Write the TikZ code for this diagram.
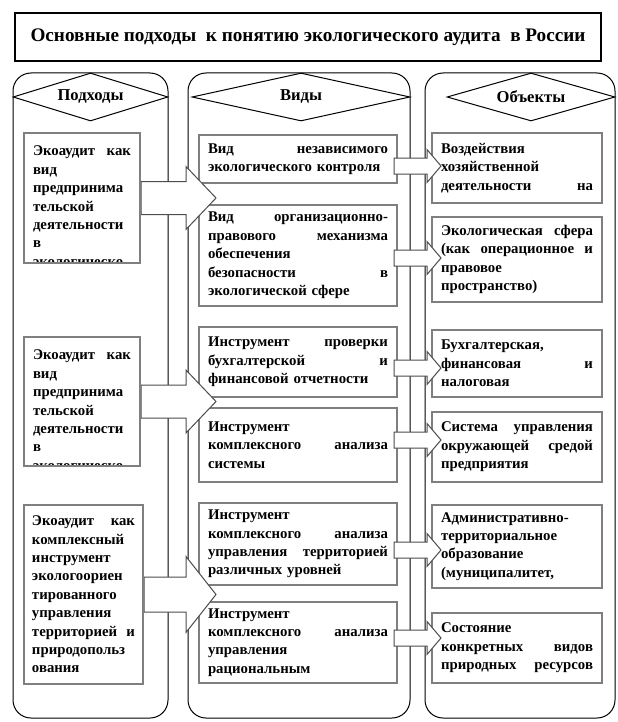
\documentclass[tikz,border=0pt]{standalone}
\usepackage{fontspec}
\setmainfont{Liberation Serif}[BoldFont={Liberation Serif Bold}]
\usetikzlibrary{shapes.geometric,calc}
\definecolor{boxgray}{HTML}{7F7F7F}
\pgfdeclarelayer{cols}
\pgfdeclarelayer{links}
\pgfdeclarelayer{front}
\pgfsetlayers{cols,main,links,front}
\tikzset{
  colbox/.style={draw=black, line width=0.5pt, rounded corners=9pt, fill=white},
  headdiamond/.style={diamond, draw=black, line width=0.5pt, fill=white, inner sep=0pt, font=\bfseries\fontsize{8.3}{9.2}\selectfont},
  card/.style={draw=boxgray, line width=1pt, fill=white, inner xsep=4.5pt, inner ysep=2pt, align=left, font=\bfseries\fontsize{7.4}{9.2}\selectfont},
  appbox/.style={card, text width=49pt},
  apptext/.style={anchor=north, text width=49pt, inner xsep=4.5pt, inner ysep=6pt, align=left, font=\bfseries\fontsize{7.4}{9.2}\selectfont},
  vidbox/.style={card, text width=90pt},
  objbox/.style={card, text width=76pt},
  bigarrow/.style={draw=black!70, line width=0.5pt, fill=white},
  smallarrow/.style={draw=black!70, line width=0.5pt, fill=white}
}

\begin{document}
\begin{tikzpicture}[x=0.5pt, y=-0.5pt]
  \useasboundingbox (0,0) rectangle (617,722);
  \node[draw=black, line width=0.6pt, minimum width=293pt, minimum height=24pt, inner sep=0pt, font=\bfseries\fontsize{9.6}{11}\selectfont] (title) at (308,37) {Основные подходы\ \ к понятию экологического аудита\ \ в России};

  % columns with their headings
  \begin{pgfonlayer}{cols}
  \node[colbox, minimum width=77.5pt, minimum height=322.5pt] (colap) at (90.5,395.5) {};
  \node[colbox, minimum width=111pt, minimum height=322.5pt] (colvid) at (299,395.5) {};
  \node[colbox, minimum width=95pt, minimum height=322.5pt] (colobj) at (520,395.5) {};
  \node[headdiamond, aspect=3.2, minimum width=77.5pt, minimum height=24pt] (hap) at (90.5,97) {Подходы};
  \node[headdiamond, aspect=4.5, minimum width=109pt, minimum height=24pt] (hvid) at (301,97) {Виды};
  \node[headdiamond, aspect=3.5, minimum width=84pt, minimum height=24pt] (hobj) at (531,97) {Объекты};
  \end{pgfonlayer}

  % approaches
  \begin{pgfonlayer}{front}
  \node[appbox, minimum height=65pt, path picture={\node[apptext] (ap1t) at (path picture bounding box.north) {Экоаудит\hfill как\\вид\\предпринима\\тельской\\деятельности\\в\\экологическо};}] (ap1) at (82,198) {};
  \node[appbox, minimum height=64.5pt, path picture={\node[apptext] (ap2t) at (path picture bounding box.north) {Экоаудит\hfill как\\вид\\предпринима\\тельской\\деятельности\\в\\экологическо};}] (ap2) at (82,401.5) {};
  \node[appbox, text width=51.5pt, inner xsep=4pt, minimum height=89.5pt] (ap3) at (83.5,594.5) {Экоаудит\hfill как\\комплексный\\инструмент\\экологоориен\\тированного\\управления\\территорией\hfill и\\природопольз\\ования};
  \end{pgfonlayer}

  % kinds
  \node[vidbox, minimum height=24pt] (mv1) at (298,159) {Вид\hfill независимого\\экологического контроля};
  \node[vidbox, minimum height=50.5pt] (mv2) at (298,255.5) {Вид\hfill организационно-\\правового\hfill механизма\\обеспечения\\безопасности\hfill в\\экологической сфере};
  \node[vidbox, minimum height=35pt] (mv3) at (298,362) {Инструмент\hfill проверки\\бухгалтерской\hfill и\\финансовой отчетности};
  \node[vidbox, minimum height=37pt] (mv4) at (298,445) {Инструмент\\комплексного\hfill анализа\\системы};
  \node[vidbox, minimum height=41pt] (mv5) at (298,544) {Инструмент\\комплексного\hfill анализа\\управления\hfill территорией\\различных уровней};
  \node[vidbox, minimum height=40.5pt] (mv6) at (298,642.5) {Инструмент\\комплексного\hfill анализа\\управления\\рациональным};

  % objects
  \node[objbox, minimum height=35pt] (ob1) at (517,168) {Воздействия\\хозяйственной\\деятельности\hfill на};
  \node[objbox, minimum height=42.5pt] (ob2) at (517,259.5) {Экологическая\hfill сфера\\(как\hfill операционное\hfill и\\правовое\\пространство)};
  \node[objbox, minimum height=33.5pt] (ob3) at (517,363.5) {Бухгалтерская,\\финансовая\hfill и\\налоговая};
  \node[objbox, minimum height=35pt] (ob4) at (517,447) {Система\hfill управления\\окружающей\hfill средой\\предприятия};
  \node[objbox, minimum height=41.5pt] (ob5) at (517,546.5) {Административно-\\территориальное\\образование\\(муниципалитет,};
  \node[objbox, minimum height=35pt] (ob6) at (517,648) {Состояние\\конкретных\hfill видов\\природных\hfill ресурсов};

  \coordinate (tip1) at (441,166);
  \coordinate (tip2) at (441,258);
  \coordinate (tip3) at (441,368);
  \coordinate (tip4) at (441,440);
  \coordinate (tip5) at (441,550);
  \coordinate (tip6) at (441,638);

  % block arrows
  \begin{pgfonlayer}{links}
  \draw[bigarrow] ($(ap1.east)+(0,-16.5)$) -| ($(ap1.east)+(45,-31.5)$) -- ($(ap1.east)+(75,0)$) -- ($(ap1.east)+(45,31.5)$) |- ($(ap1.east)+(0,16.5)$) -- cycle;
  \draw[bigarrow] ($(ap2.east)+(0,-16.5)$) -| ($(ap2.east)+(45,-31.5)$) -- ($(ap2.east)+(75,0)$) -- ($(ap2.east)+(45,31.5)$) |- ($(ap2.east)+(0,16.5)$) -- cycle;
  \draw[bigarrow] ($(ap3.east)+(0,-17.5)$) -| ($(ap3.east)+(42,-38)$) -- ($(ap3.east)+(72,0)$) -- ($(ap3.east)+(42,38)$) |- ($(ap3.east)+(0,17.5)$) -- cycle;
  \draw[smallarrow] ($(mv1.east |- tip1)+(-4,-8)$) -| ($(tip1)+(-14,-16.5)$) -- (tip1) -- ($(tip1)+(-14,16.5)$) |- ($(mv1.east |- tip1)+(-4,8)$) -- cycle;
  \draw[smallarrow] ($(mv2.east |- tip2)+(-4,-8)$) -| ($(tip2)+(-14,-16.5)$) -- (tip2) -- ($(tip2)+(-14,16.5)$) |- ($(mv2.east |- tip2)+(-4,8)$) -- cycle;
  \draw[smallarrow] ($(mv3.east |- tip3)+(-4,-8)$) -| ($(tip3)+(-14,-16.5)$) -- (tip3) -- ($(tip3)+(-14,16.5)$) |- ($(mv3.east |- tip3)+(-4,8)$) -- cycle;
  \draw[smallarrow] ($(mv4.east |- tip4)+(-4,-8)$) -| ($(tip4)+(-14,-16.5)$) -- (tip4) -- ($(tip4)+(-14,16.5)$) |- ($(mv4.east |- tip4)+(-4,8)$) -- cycle;
  \draw[smallarrow] ($(mv5.east |- tip5)+(-4,-8)$) -| ($(tip5)+(-14,-16.5)$) -- (tip5) -- ($(tip5)+(-14,16.5)$) |- ($(mv5.east |- tip5)+(-4,8)$) -- cycle;
  \draw[smallarrow] ($(mv6.east |- tip6)+(-4,-8)$) -| ($(tip6)+(-14,-16.5)$) -- (tip6) -- ($(tip6)+(-14,16.5)$) |- ($(mv6.east |- tip6)+(-4,8)$) -- cycle;
  \end{pgfonlayer}
\end{tikzpicture}
\end{document}
